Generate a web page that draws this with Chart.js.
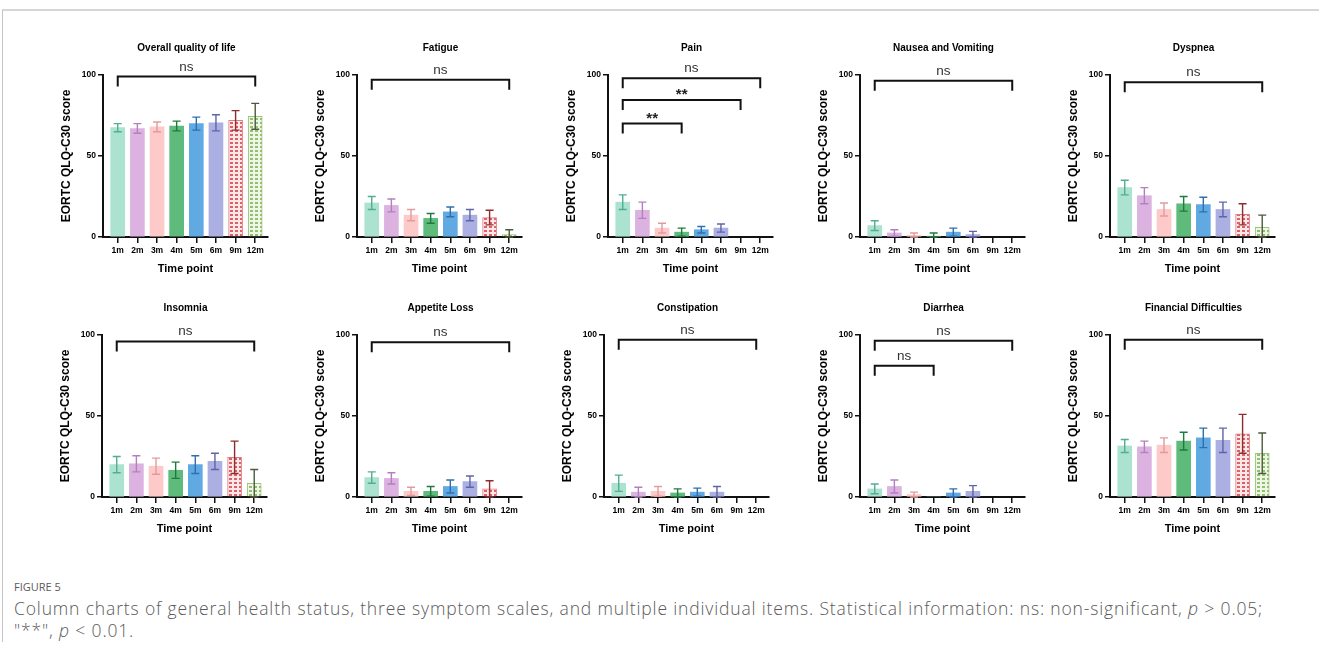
<!DOCTYPE html>
<html>
<head>
<meta charset="utf-8">
<script src="https://cdn.jsdelivr.net/npm/chart.js@4"></script>
<style>
  body { margin: 0; background: #fff; width: 1319px; height: 646px; overflow: hidden; position: relative; }
  #frame { position: absolute; left: 2px; top: 9px; right: 0; bottom: 4px; border-top: 2px solid #d6d6d6; border-left: 1px solid #c4c4c4; }
  .panel { position: absolute; }
  #caption { position: absolute; left: 14px; top: 577px; color: #5a5a5a; font-family: 'Open Sans', 'Noto Sans', sans-serif; }
  #caption .fig { font-size: 11px; line-height: 20px; }
  #caption .txt { font-size: 17.5px; line-height: 22px; letter-spacing: 0.85px; font-weight: 300; }
</style>
</head>
<body>
<div id="frame"></div>
<div id="charts"></div>
<div id="caption">
  <div class="fig">FIGURE 5</div>
  <div class="txt">Column charts of general health status, three symptom scales, and multiple individual items. Statistical information: ns: non-significant, <i>p</i> &gt; 0.05;<br>"**", <i>p</i> &lt; 0.01.</div>
</div>
<script>
const timePoints = ["1m", "2m", "3m", "4m", "5m", "6m", "9m", "12m"];

const qolMean = [67.5, 67, 68, 68.5, 70, 70.5, 72, 74.5];
const qolSd = [2.5, 3, 3, 3, 4, 5, 6, 8];
const fatigueMean = [21, 19.5, 13.5, 11.5, 15.5, 13.5, 12, 1.5];
const fatigueSd = [4, 4, 3.5, 3, 3, 3.5, 4.5, 3];
const painMean = [21.5, 16.5, 5.5, 3, 4.5, 5.5, 0, 0];
const painSd = [4.5, 5, 3, 2.5, 2, 2.5, 0, 0];
const nauseaMean = [7, 2.5, 1, 0.5, 3, 1.5, 0, 0];
const nauseaSd = [3, 2, 1.5, 2, 2.5, 2, 0, 0];
const dyspneaMean = [30.5, 25.5, 17, 20.5, 20, 17, 14, 6];
const dyspneaSd = [4.5, 5, 4, 4.5, 4.5, 4.5, 6.5, 7.5];
const insomniaMean = [20, 20.5, 19, 16.5, 20, 22, 24.5, 8.5];
const insomniaSd = [5, 5, 5, 5, 5.5, 5, 10, 8.5];
const appetiteMean = [12, 11.5, 3.5, 3.5, 6.5, 9.5, 5, 0];
const appetiteSd = [3.5, 3.5, 2.5, 3, 4, 3.5, 5, 0];
const constipationMean = [8.5, 3, 3.5, 2.5, 3, 3, 0, 0];
const constipationSd = [5, 3, 3, 2.5, 2.5, 3.5, 0, 0];
const diarrheaMean = [5, 6.5, 1.5, 0, 2.5, 3.5, 0, 0];
const diarrheaSd = [3, 4, 1.5, 0, 2.5, 3.5, 0, 0];
const financialMean = [31.5, 31, 32, 34.5, 36.5, 35, 39, 27];
const financialSd = [4, 3.5, 4.5, 5.5, 6, 7.5, 12, 12.5];

// significance brackets: [from index, to index, height, label]
const qolBrackets = [[0, 7, 99, "ns"]];
const fatigueBrackets = [[0, 7, 97, "ns"]];
const painBrackets = [[0, 7, 98, "ns"], [0, 6, 84.5, "**"], [0, 3, 70, "**"]];
const nauseaBrackets = [[0, 7, 96.5, "ns"]];
const dyspneaBrackets = [[0, 7, 95.5, "ns"]];
const insomniaBrackets = [[0, 7, 96, "ns"]];
const appetiteBrackets = [[0, 7, 95.5, "ns"]];
const constipationBrackets = [[0, 7, 97, "ns"]];
const diarrheaBrackets = [[0, 7, 96.5, "ns"], [0, 3, 81, "ns"]];
const financialBrackets = [[0, 7, 97, "ns"]];

const yTitle = "EORTC QLQ-C30 score";
const xTitle = "Time point";

function makePattern(bg, fg) {
  const c = document.createElement("canvas");
  c.width = 5; c.height = 4;
  const g = c.getContext("2d");
  g.fillStyle = bg; g.fillRect(0, 0, 5, 4);
  g.fillStyle = fg; g.fillRect(1, 1, 3, 2);
  return g.createPattern(c, "repeat");
}

const barColors = ["#abe3d0", "#dcb3e0", "#fdc9c9", "#5fbb7c", "#60a9e3", "#abafe2",
  makePattern("#fde8e8", "#dc5f6a"), makePattern("#eef6e6", "#93bf72")];
const barBorders = ["#abe3d0", "#dcb3e0", "#fdc9c9", "#5fbb7c", "#60a9e3", "#abafe2", "#e07b82", "#9dc47c"];
const errColors = ["#52ad95", "#b47fc0", "#e59a9a", "#1f7a3e", "#2f6fae", "#5f64a8", "#8e2d2d", "#4e5a3a"];

const panels = [
  ["Overall quality of life", qolMean, qolSd, qolBrackets],
  ["Fatigue", fatigueMean, fatigueSd, fatigueBrackets],
  ["Pain", painMean, painSd, painBrackets],
  ["Nausea and Vomiting", nauseaMean, nauseaSd, nauseaBrackets],
  ["Dyspnea", dyspneaMean, dyspneaSd, dyspneaBrackets],
  ["Insomnia", insomniaMean, insomniaSd, insomniaBrackets],
  ["Appetite Loss", appetiteMean, appetiteSd, appetiteBrackets],
  ["Constipation", constipationMean, constipationSd, constipationBrackets],
  ["Diarrhea", diarrheaMean, diarrheaSd, diarrheaBrackets],
  ["Financial Difficulties", financialMean, financialSd, financialBrackets]
];

const axisLeft = [[103, 357, 608, 860, 1110], [102, 357, 604, 860, 1110]];
const plotTop = [75, 335];

Chart.defaults.font.family = "'Liberation Sans', Arial, sans-serif";
Chart.defaults.color = "#000";

function overlay(title, brackets) {
  return {
    id: "overlay",
    afterDatasetsDraw(chart) {
      const ctx = chart.ctx;
      const ds = chart.data.datasets[0];
      const meta = chart.getDatasetMeta(0);
      const x = chart.scales.x, y = chart.scales.y;
      ctx.save();
      // error bars
      ctx.lineWidth = 1.4;
      meta.data.forEach((bar, i) => {
        const sd = ds.sd[i];
        if (!sd) return;
        const m = ds.data[i].y;
        const top = y.getPixelForValue(m + sd);
        const bot = y.getPixelForValue(Math.max(m - sd, 0));
        ctx.strokeStyle = errColors[i];
        ctx.beginPath();
        ctx.moveTo(bar.x, top); ctx.lineTo(bar.x, bot);
        ctx.moveTo(bar.x - 4, top); ctx.lineTo(bar.x + 4, top);
        ctx.moveTo(bar.x - 4, bot); ctx.lineTo(bar.x + 4, bot);
        ctx.stroke();
      });
      // brackets
      ctx.strokeStyle = "#111";
      ctx.lineWidth = 2;
      ctx.textAlign = "center";
      ctx.textBaseline = "alphabetic";
      brackets.forEach(([a, b, v, label]) => {
        const x1 = x.getPixelForValue(a), x2 = x.getPixelForValue(b);
        const yy = y.getPixelForValue(v);
        ctx.beginPath();
        ctx.moveTo(x1, yy + 10); ctx.lineTo(x1, yy); ctx.lineTo(x2, yy); ctx.lineTo(x2, yy + 10);
        ctx.stroke();
        if (label === "ns") {
          ctx.font = "13.5px 'Liberation Sans', Arial, sans-serif";
          ctx.fillStyle = "#333";
          ctx.fillText(label, (x1 + x2) / 2, yy - 6);
        } else {
          ctx.font = "bold 15px 'Liberation Sans', Arial, sans-serif";
          ctx.fillStyle = "#222";
          ctx.fillText(label, (x1 + x2) / 2, yy - 1);
        }
      });
      // panel title
      const ca = chart.chartArea;
      ctx.font = "bold 10px 'Liberation Sans', Arial, sans-serif";
      ctx.fillStyle = "#000";
      ctx.textBaseline = "middle";
      ctx.fillText(title, (ca.left + ca.right) / 2 + 1, ca.top - 27);
      ctx.restore();
    }
  };
}

const holder = document.getElementById("charts");
panels.forEach(([title, mean, sd, brackets], k) => {
  const row = Math.floor(k / 5), col = k % 5;
  const div = document.createElement("div");
  div.className = "panel";
  div.style.left = (axisLeft[row][col] - 44) + "px";
  div.style.top = (plotTop[row] - 50) + "px";
  const canvas = document.createElement("canvas");
  canvas.width = 214; canvas.height = 257;
  div.appendChild(canvas);
  holder.appendChild(div);

  new Chart(canvas, {
    type: "bar",
    data: {
      datasets: [{
        data: mean.map((v, i) => ({ x: i, y: v })),
        sd: sd,
        backgroundColor: barColors,
        borderColor: barBorders,
        borderWidth: [0, 0, 0, 0, 0, 0, 1, 1],
        barThickness: 14
      }]
    },
    options: {
      responsive: false,
      animation: false,
      layout: { padding: { top: 50, bottom: 3, left: 0, right: 5 } },
      plugins: { legend: { display: false }, tooltip: { enabled: false } },
      scales: {
        x: {
          type: "linear",
          min: -0.75,
          max: 7.65,
          offset: false,
          afterBuildTicks: (axis) => { axis.ticks = timePoints.map((_, i) => ({ value: i })); },
          afterFit: (axis) => { axis.height = 42; },
          ticks: {
            autoSkip: false, maxRotation: 0, padding: 3,
            font: { size: 8.5, weight: "bold" },
            callback: (v) => timePoints[v]
          },
          grid: { display: true, offset: false, drawOnChartArea: false, drawTicks: true, tickLength: 6, color: "#111", lineWidth: 1.5 },
          border: { display: true, color: "#111", width: 2 },
          title: { display: true, text: xTitle, font: { size: 11, weight: "bold" }, padding: { top: 0, bottom: 3 } }
        },
        y: {
          min: 0,
          max: 100,
          afterFit: (axis) => { axis.width = 44; },
          ticks: { stepSize: 50, padding: 2, font: { size: 8.5, weight: "bold" } },
          grid: { display: true, drawOnChartArea: false, drawTicks: true, tickLength: 5, color: "#111", lineWidth: 1.5 },
          border: { display: true, color: "#111", width: 2 },
          title: { display: true, text: yTitle, font: { size: 12, weight: "bold" }, padding: 0 }
        }
      }
    },
    plugins: [overlay(title, brackets)]
  });
});
</script>
</body>
</html>
